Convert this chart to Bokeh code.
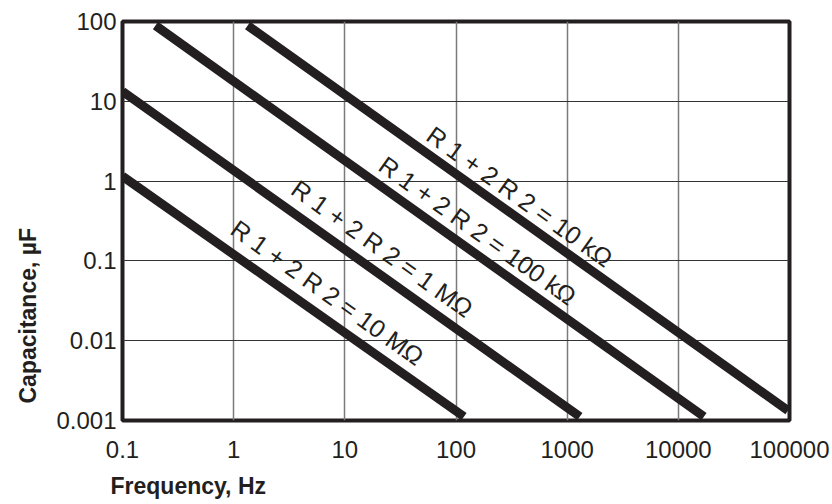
import math
from bokeh.plotting import figure
from bokeh.models import FixedTicker, Title, ColumnDataSource
from bokeh.core.properties import value
from bokeh.embed import file_html
from bokeh.resources import INLINE

# ---- data ----
x_ticks = [0.1, 1, 10, 100, 1000, 10000, 100000]
x_tick_labels = ["0.1", "1", "10", "100", "1000", "10000", "100000"]
y_ticks = [0.001, 0.01, 0.1, 1, 10, 100]
y_tick_labels = ["0.001", "0.01", "0.1", "1", "10", "100"]

series_names = [
    "R 1 + 2 R 2 = 10 kΩ",
    "R 1 + 2 R 2 = 100 kΩ",
    "R 1 + 2 R 2 = 1 MΩ",
    "R 1 + 2 R 2 = 10 MΩ",
]
freq_start = [1.336, 0.198, 0.1, 0.1]
cap_start = [89.0, 89.1, 13.3, 1.15]
freq_end = [97000, 17000, 1300, 118]
cap_end = [0.00133, 0.00112, 0.00112, 0.00112]

# label anchor (centre of each text, in data units)
label_freq = [375, 157, 21.7, 6.97]
label_cap = [0.641, 0.240, 0.143, 0.0402]

INK = "#231f20"
FONT = "Liberation Sans"
W, H = 832, 504

p = figure(
    width=W, height=H,
    x_axis_type="log", y_axis_type="log",
    x_range=(0.1, 100000), y_range=(0.001, 100),
    output_backend="svg", toolbar_location=None,
    min_border_left=120, min_border_right=43,
    min_border_top=21, min_border_bottom=84,
)
p.background_fill_color = "white"
p.border_fill_color = "white"
p.outline_line_color = INK
p.outline_line_width = 4

src = ColumnDataSource(dict(
    xs=[[a, b] for a, b in zip(freq_start, freq_end)],
    ys=[[a, b] for a, b in zip(cap_start, cap_end)],
))
p.multi_line(xs="xs", ys="ys", source=src, line_width=9, line_color=INK, line_cap="butt")

lsrc = ColumnDataSource(dict(x=label_freq, y=label_cap, t=series_names))
p.text(x="x", y="y", text="t", source=lsrc, angle=-math.atan2(79.8, 111.5),
       text_align="center", text_baseline="middle",
       text_font=value(FONT), text_font_size="25px", text_color=INK)

p.xaxis.ticker = FixedTicker(ticks=x_ticks, minor_ticks=[])
p.yaxis.ticker = FixedTicker(ticks=y_ticks, minor_ticks=[])
p.xaxis.major_label_overrides = dict(zip(x_ticks, x_tick_labels))
p.yaxis.major_label_overrides = dict(zip(y_ticks, y_tick_labels))
for ax in (p.xaxis, p.yaxis):
    ax.axis_line_color = None
    ax.major_tick_line_color = None
    ax.minor_tick_line_color = None
    ax.major_tick_out = 0
    ax.major_tick_in = 0
    ax.major_label_text_font = FONT
    ax.major_label_text_font_size = "24px"
    ax.major_label_text_color = INK
p.xaxis.major_label_standoff = 20
p.yaxis.major_label_standoff = 6
# invisible spacer below the x tick labels (pushes the x title down)
p.xaxis.axis_label = " "
p.xaxis.axis_label_text_font_size = "4px"
p.xaxis.axis_label_standoff = 0

p.xgrid.grid_line_color = "#7a7a7a"
p.xgrid.grid_line_width = 1.5
p.ygrid.grid_line_color = "#333333"
p.ygrid.grid_line_width = 1.2

# axis titles as side titles (positioned along the side with align/offset)
p.add_layout(Title(text="Capacitance, µF", align="left", offset=17, standoff=25,
                   text_font=FONT, text_font_style="bold",
                   text_font_size="23px", text_color=INK), "left")
p.add_layout(Title(text="Frequency,  Hz", align="left", offset=-12, standoff=4,
                   vertical_align="bottom",
                   text_font=FONT, text_font_style="bold",
                   text_font_size="23px", text_color=INK), "below")

open("out.html", "w").write(file_html(p, INLINE))
